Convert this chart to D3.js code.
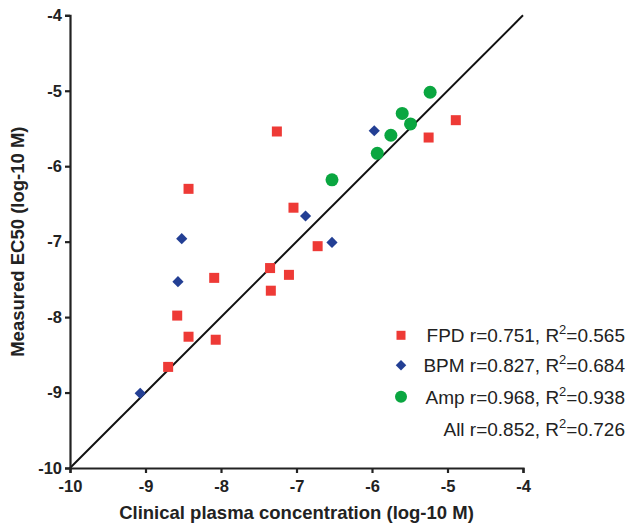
<!DOCTYPE html>
<html>
<head>
<meta charset="utf-8">
<script src="https://cdn.jsdelivr.net/npm/d3@7"></script>
<style>
  body { margin: 0; background: #fff; }
  svg text { font-family: "Liberation Sans", Arial, sans-serif; }
</style>
</head>
<body>
<div id="chart"></div>
<script>
// FPD (red squares)
const fpdX = [-4.89, -5.25, -6.72, -7.26, -8.43, -7.04, -7.35, -7.10, -7.34, -8.09, -8.58, -8.43, -8.07, -8.70];
const fpdY = [-5.39, -5.62, -7.06, -5.54, -6.30, -6.55, -7.35, -7.44, -7.65, -7.48, -7.98, -8.26, -8.30, -8.66];
// BPM (blue diamonds)
const bpmX = [-5.97, -6.88, -6.53, -8.52, -8.57, -9.07];
const bpmY = [-5.53, -6.66, -7.01, -6.96, -7.53, -9.01];
// Amp (green circles)
const ampX = [-5.23, -5.60, -5.49, -5.75, -5.93, -6.53];
const ampY = [-5.02, -5.30, -5.44, -5.59, -5.83, -6.18];

const axisTicks = [-10, -9, -8, -7, -6, -5, -4];
const legendNames = ['FPD', 'BPM', 'Amp', 'All'];
const legendR = ['0.751', '0.827', '0.968', '0.852'];
const legendR2 = ['0.565', '0.684', '0.938', '0.726'];

const W = 629, H = 523;
const margin = { top: 15.3, right: 106, bottom: 55, left: 70 };
const width = W - margin.left - margin.right,
  height = H - margin.top - margin.bottom;

const svg = d3.select('#chart').append('svg')
  .attr('width', W).attr('height', H)
  .append('g')
  .attr('transform', 'translate(' + margin.left + ',' + margin.top + ')');

const x = d3.scaleLinear().domain([-10, -4]).range([0, width]);
const y = d3.scaleLinear().domain([-10, -4]).range([height, 0]);

const zip = (xs, ys) => xs.map((v, i) => ({ x: v, y: ys[i] }));

// identity line
svg.append('line')
  .attr('x1', x(-10)).attr('y1', y(-10))
  .attr('x2', x(-4)).attr('y2', y(-4))
  .attr('stroke', '#111').attr('stroke-width', 2);

// axes (plain hyphen for the minus sign, like the original)
const fmt = d => String(d);
const xAxis = svg.append('g')
  .attr('transform', 'translate(0,' + height + ')')
  .call(d3.axisBottom(x).tickValues(axisTicks).tickSize(5).tickPadding(5).tickFormat(fmt));
const yAxis = svg.append('g')
  .call(d3.axisLeft(y).tickValues(axisTicks).tickSize(5).tickPadding(3).tickFormat(fmt));

[xAxis, yAxis].forEach(a => {
  a.select('.domain').attr('stroke', '#222').attr('stroke-width', 2.2);
  a.selectAll('.tick line').attr('stroke', '#222').attr('stroke-width', 2.2);
  a.selectAll('.tick text')
    .attr('fill', '#222')
    .style('font-size', '16.5px')
    .style('font-weight', 'bold');
});
xAxis.selectAll('.tick text').attr('dy', '0.85em');

// axis titles
svg.append('text')
  .attr('x', width / 2 + 0).attr('y', height + 51)
  .attr('text-anchor', 'middle')
  .attr('fill', '#222')
  .style('font-size', '18.5px').style('font-weight', 'bold')
  .text('Clinical plasma concentration (log-10 M)');

svg.append('text')
  .attr('transform', 'translate(' + (-46) + ',' + (height / 2) + ') rotate(-90)')
  .attr('text-anchor', 'middle')
  .attr('fill', '#222')
  .style('font-size', '18.5px').style('font-weight', 'bold')
  .text('Measured EC50 (log-10 M)');

const red = '#ee3a36', blue = '#233f94', green = '#0aa640';

// markers
svg.selectAll('.fpd').data(zip(fpdX, fpdY)).enter().append('rect')
  .attr('class', 'fpd')
  .attr('x', d => x(d.x) - 5).attr('y', d => y(d.y) - 5)
  .attr('width', 10).attr('height', 10)
  .attr('fill', red);

svg.selectAll('.bpm').data(zip(bpmX, bpmY)).enter().append('path')
  .attr('class', 'bpm')
  .attr('d', d3.symbol().type(d3.symbolDiamond2).size(80))
  .attr('transform', d => 'translate(' + x(d.x) + ',' + y(d.y) + ')')
  .attr('fill', blue);

svg.selectAll('.amp').data(zip(ampX, ampY)).enter().append('circle')
  .attr('class', 'amp')
  .attr('cx', d => x(d.x)).attr('cy', d => y(d.y))
  .attr('r', 6.5)
  .attr('fill', green);

// legend
const legend = svg.append('g');
const rowY = [320, 350, 381.5, 414];
const markerX = 331;
const textRight = W - margin.left - 4;

legendNames.forEach((name, i) => {
  const t = legend.append('text')
    .attr('x', textRight).attr('y', rowY[i] + 7)
    .attr('text-anchor', 'end')
    .attr('fill', '#222')
    .style('font-size', '19px');
  t.append('tspan').text(name + ' r=' + legendR[i] + ', R');
  t.append('tspan').attr('dy', -8).style('font-size', '13px').text('2');
  t.append('tspan').attr('dy', 8).text('=' + legendR2[i]);
});

legend.append('rect')
  .attr('x', markerX - 4.5).attr('y', rowY[0] - 4.5)
  .attr('width', 9).attr('height', 9).attr('fill', red);
legend.append('path')
  .attr('d', d3.symbol().type(d3.symbolDiamond2).size(70))
  .attr('transform', 'translate(' + markerX + ',' + rowY[1] + ')')
  .attr('fill', blue);
legend.append('circle')
  .attr('cx', markerX).attr('cy', rowY[2]).attr('r', 6)
  .attr('fill', green);
</script>
</body>
</html>
